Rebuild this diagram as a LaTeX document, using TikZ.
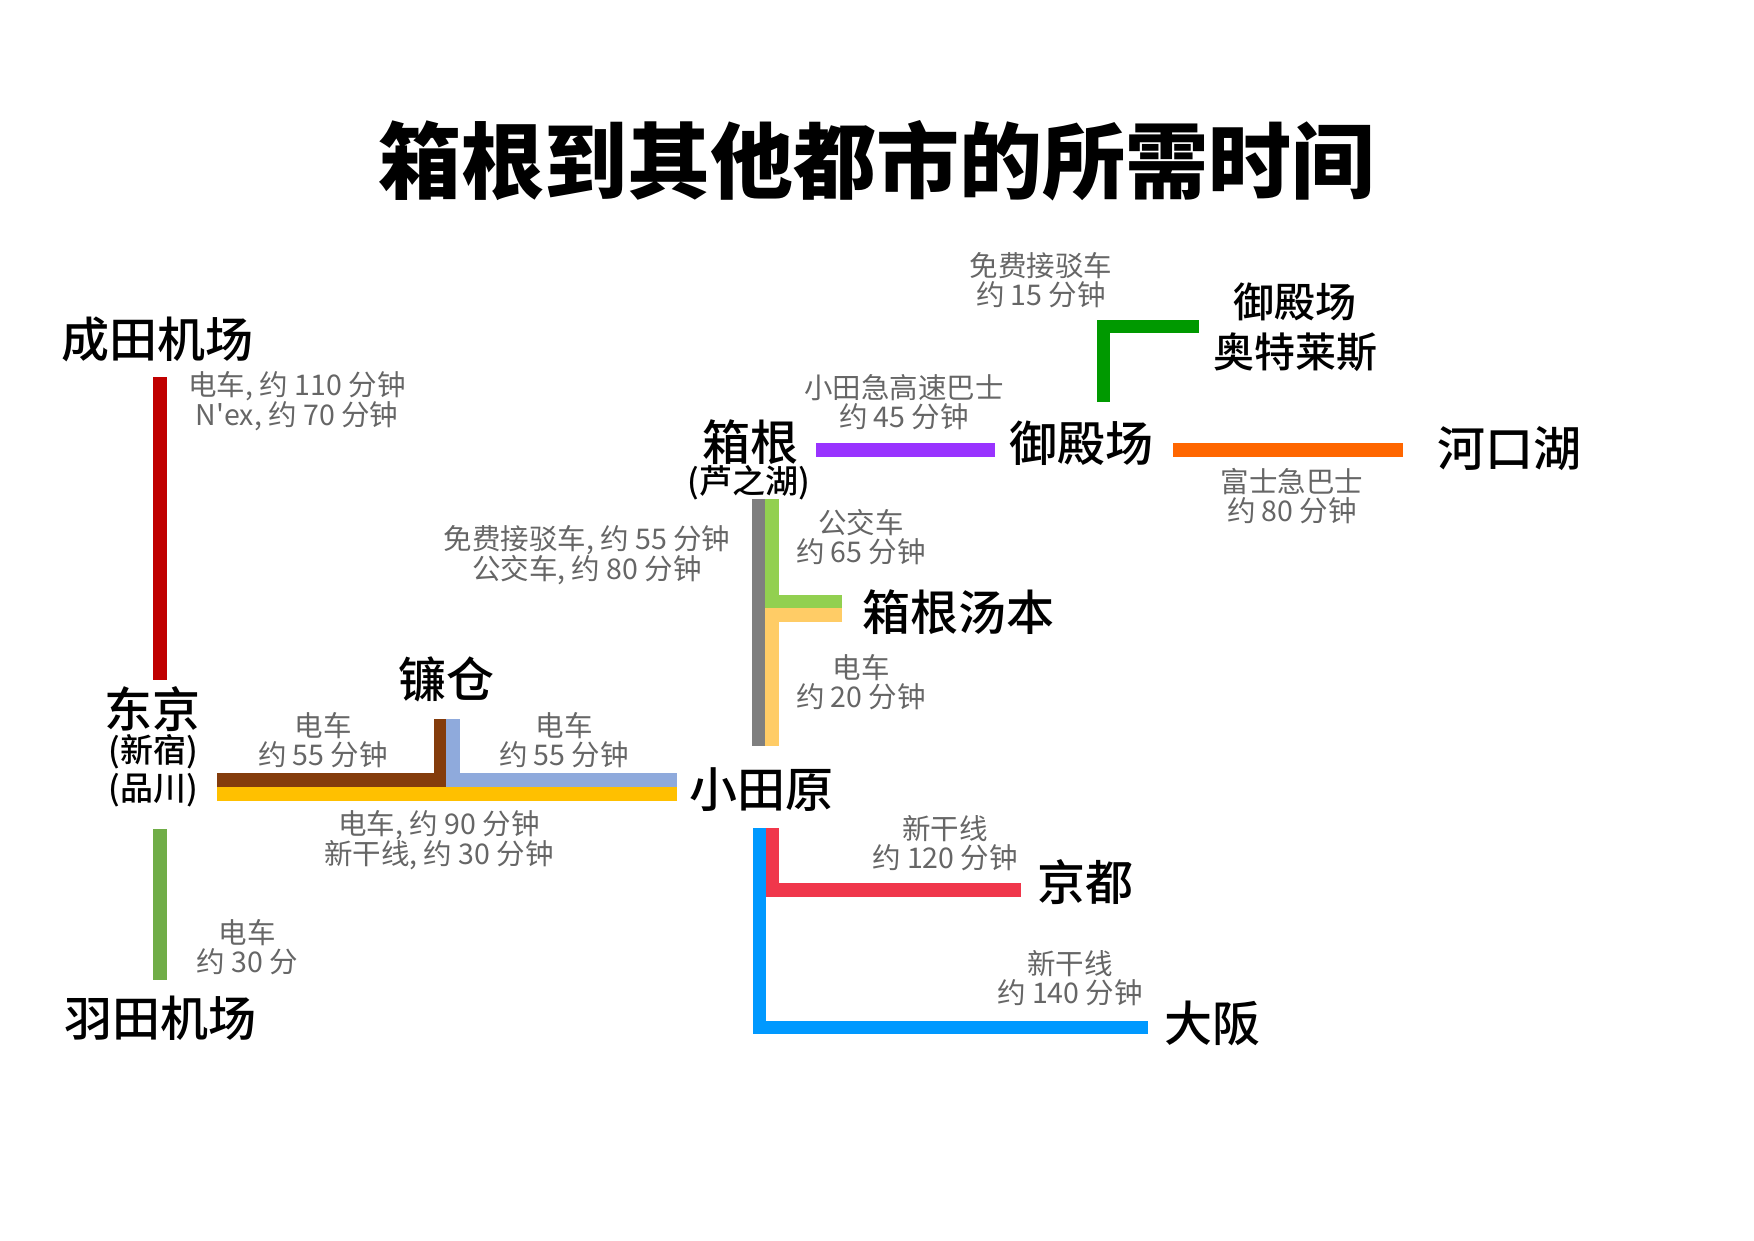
\documentclass[tikz,border=0pt]{standalone}
\usepackage{fontspec}
\setmainfont{Noto Sans CJK SC}
\newfontfamily\stationfont{Noto Sans CJK SC Medium}
\usetikzlibrary{positioning}

\definecolor{notegray}{HTML}{666666}
\definecolor{naritared}{HTML}{C00000}
\definecolor{hanedagreen}{HTML}{70AD47}
\definecolor{kamabrown}{HTML}{843C0C}
\definecolor{kamablue}{HTML}{8FAADC}
\definecolor{jryellow}{HTML}{FFC000}
\definecolor{ashigray}{HTML}{7F7F7F}
\definecolor{yumotogreen}{HTML}{92D050}
\definecolor{yumotoorange}{HTML}{FFCC66}
\definecolor{odakyupurple}{HTML}{9933FF}
\definecolor{outletgreen}{HTML}{009900}
\definecolor{fujiorange}{HTML}{FF6600}
\definecolor{kyotored}{HTML}{F0374B}
\definecolor{osakablue}{HTML}{0099FF}

\begin{document}
\begin{tikzpicture}[
x=1pt, y=-1pt,
title/.style={inner sep=0pt, font=\fontsize{83}{90}\selectfont\bfseries},
city/.style={inner sep=0pt, font=\fontsize{48}{52}\selectfont\stationfont},
sub/.style={inner sep=0pt, align=center, font=\fontsize{33}{38}\selectfont\stationfont},
outlet/.style={inner sep=0pt, align=center, font=\fontsize{41}{50}\selectfont\stationfont},
note/.style={inner sep=0pt, align=center, text=notegray, font=\fontsize{28.5}{29}\selectfont},
route/.style={line width=13.5pt}]

\fill[white] (0,0) rectangle (1754,1240);
\useasboundingbox (0,0) rectangle (1754,1240);

\node[title] (title) at (876,161) {箱根到其他都市的所需时间};

% stations
\node[city] (narita) at (157,339) {成田机场};
\node[city] (tokyo) at (152,709) {东京};
\node[sub] (tokyosub) at (153,771) {(新宿)\\(品川)};
\node[city] (haneda) at (160,1018) {羽田机场};
\node[city] (kamakura) at (446,679) {镰仓};
\node[city] (odawara) at (761,790) {小田原};
\node[city] (hakone) at (750,442) {箱根};
\node[sub] (ashinoko) at (749,483) {(芦之湖)};
\node[city] (yumoto) at (958,612) {箱根汤本};
\node[city] (gotemba) at (1081,443) {御殿场};
\node[outlet] (outlet) at (1295,327) {御殿场\\奥特莱斯};
\node[city] (kawaguchi) at (1509,449) {河口湖};
\node[city] (kyoto) at (1085,882) {京都};
\node[city] (osaka) at (1212,1023) {大阪};

% travel times
\node[note] (t-nrt) at (297,401) {电车, 约 110 分钟\\N\textquotesingle ex, 约 70 分钟};
\node[note] (t-kmk1) at (323,740) {电车\\约 55 分钟};
\node[note] (t-kmk2) at (564,740) {电车\\约 55 分钟};
\node[note] (t-odw) at (439,840) {电车, 约 90 分钟\\新干线, 约 30 分钟};
\node[note] (t-hnd) at (247,947) {电车\\约 30 分};
\node[note] (t-ashi) at (587,555) {免费接驳车, 约 55 分钟\\公交车, 约 80 分钟};
\node[note] (t-ymt1) at (861,537) {公交车\\约 65 分钟};
\node[note] (t-ymt2) at (861,682) {电车\\约 20 分钟};
\node[note] (t-gtb) at (904,402) {小田急高速巴士\\约 45 分钟};
\node[note] (t-out) at (1041,280) {免费接驳车\\约 15 分钟};
\node[note] (t-kwg) at (1292,496) {富士急巴士\\约 80 分钟};
\node[note] (t-kyo) at (945,843) {新干线\\约 120 分钟};
\node[note] (t-osk) at (1070,978) {新干线\\约 140 分钟};

% line ends
\coordinate (nrt-s) at (160,377);
\coordinate (tky-n) at (160,680);
\coordinate (tky-s) at (160,829);
\coordinate (hnd-n) at (160,980);
\coordinate (tky-e1) at (217,780);
\coordinate (tky-e2) at (217,794);
\coordinate (kmk-s1) at (440.5,719);
\coordinate (kmk-s2) at (453,719);
\coordinate (odw-w1) at (677,780);
\coordinate (odw-w2) at (677,794);
\coordinate (ashi-s1) at (759,499);
\coordinate (ashi-s2) at (772,499);
\coordinate (odw-n1) at (759,746);
\coordinate (odw-n2) at (772,746);
\coordinate (ymt-w1) at (842,601.5);
\coordinate (ymt-w2) at (842,615);
\coordinate (hak-e) at (816,450);
\coordinate (gtb-w) at (995,450);
\coordinate (gtb-n) at (1103.5,402);
\coordinate (out-w) at (1199,326.5);
\coordinate (gtb-e) at (1173,450);
\coordinate (kwg-w) at (1403,450);
\coordinate (odw-s1) at (759.5,828);
\coordinate (odw-s2) at (772,828);
\coordinate (kyo-w) at (1021,890);
\coordinate (osk-w) at (1148,1027.5);

% routes
\draw[route, naritared] (nrt-s) -- (tky-n);
\draw[route, hanedagreen] (tky-s) -- (hnd-n);
\draw[route, kamabrown] (tky-e1) -- (kmk-s1 |- tky-e1) -- (kmk-s1);
\draw[route, kamablue] (kmk-s2) -- (kmk-s2 |- odw-w1) -- (odw-w1);
\draw[route, jryellow] (tky-e2) -- (odw-w2);
\draw[route, ashigray] (ashi-s1) -- (odw-n1);
\draw[route, yumotogreen] (ashi-s2) -- (ashi-s2 |- ymt-w1) -- (ymt-w1);
\draw[route, yumotoorange] (ymt-w2) -- (odw-n2 |- ymt-w2) -- (odw-n2);
\draw[route, odakyupurple] (hak-e) -- (gtb-w);
\draw[route, outletgreen] (gtb-n) -- (gtb-n |- out-w) -- (out-w);
\draw[route, fujiorange] (gtb-e) -- (kwg-w);
\draw[route, kyotored] (odw-s2) -- (odw-s2 |- kyo-w) -- (kyo-w);
\draw[route, osakablue] (odw-s1) -- (odw-s1 |- osk-w) -- (osk-w);
\end{tikzpicture}
\end{document}
